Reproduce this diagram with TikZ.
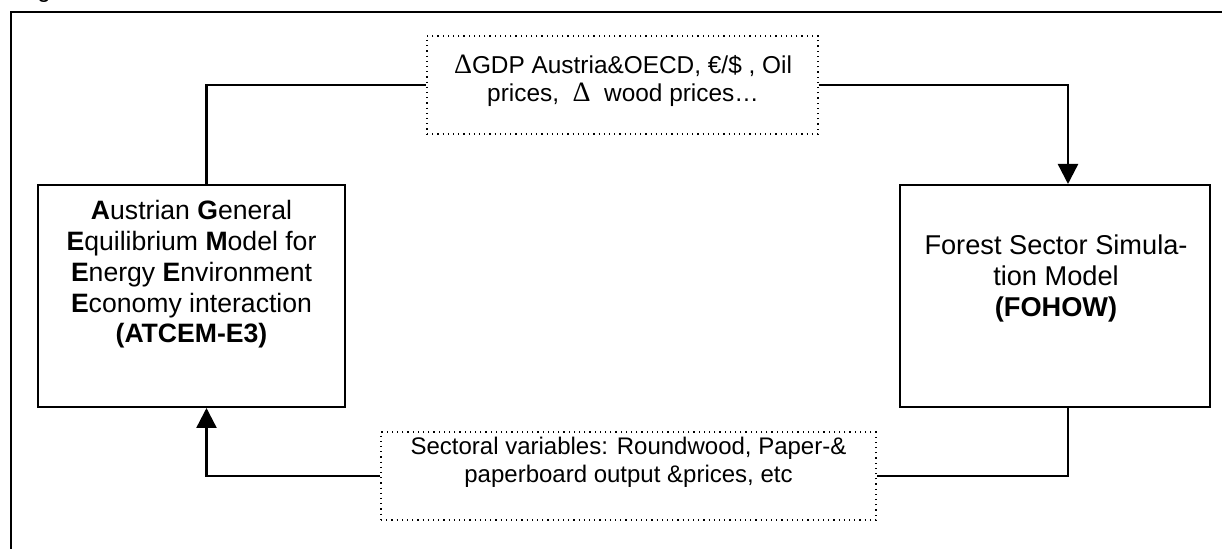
\documentclass[tikz,border=0pt]{standalone}
\usepackage{fontspec}
\setmainfont{Liberation Sans}
\newfontfamily\deltafont{Liberation Serif}
\usetikzlibrary{arrows.meta, positioning}

\begin{document}
\begin{tikzpicture}[x=0.5pt, y=-0.5pt,
  modelbox/.style={draw, line width=1pt, inner sep=0pt},
  databox/.style={draw, dotted, line width=0.6pt, inner sep=0pt},
  boxtext/.style={inner sep=0pt, align=center},
  flow/.style={line width=1.2pt},
  tip/.style={-{Triangle[length=10pt, width=10pt]}}]
\useasboundingbox (0,0) rectangle (1222,549);

% page frame and caption remnant
\node[anchor=base, font=\fontsize{12}{14}\selectfont] (figcap) at (44,-2) {g};
\draw[line width=1pt] (11,570) -- (11,12) -- (1250,12);

% the two models
\node[modelbox, minimum width=153.5pt, minimum height=111pt] (agem) at (191.5,296) {};
\node[boxtext, font=\fontsize{13.3}{15.4}\selectfont] (agemtext) at (191.5,274.5)
  {\textbf{A}ustrian \textbf{G}eneral\\\textbf{E}quilibrium \textbf{M}odel for\\
   \textbf{E}nergy \textbf{E}nvironment\\\textbf{E}conomy interaction\\\textbf{(ATCEM-E3)}};

\node[modelbox, minimum width=155pt, minimum height=111pt] (fohow) at (1055,296) {};
\node[boxtext, font=\fontsize{13.6}{15.5}\selectfont] (fohowtext) at (1056,278)
  {Forest Sector Simula-\\tion Model\\\textbf{(FOHOW)}};

% exchanged variables
\node[databox, minimum width=195.5pt, minimum height=49pt] (macro) at (622.5,85) {};
\node[boxtext, font=\fontsize{12.2}{14}\selectfont] (macrotext) at (623,81)
  {{\deltafont\fontsize{14}{14}\selectfont Δ}GDP Austria\&OECD, €/\$ , Oil\\prices, \ {\deltafont\fontsize{14}{14}\selectfont Δ}\ \ wood prices…};

\node[databox, minimum width=247.5pt, minimum height=44pt] (sector) at (628.5,476) {};
\node[boxtext, font=\fontsize{12}{14}\selectfont] (sectortext) at (628.5,462)
  {Sectoral variables: Roundwood, Paper-\&\\paperboard output \&prices, etc};

% loop
\draw[flow] ([xshift=7.5pt]agem.north) |- (macro.west);
\draw[flow, tip] (macro.east) -| ([xshift=6.5pt]fohow.north);
\draw[flow] ([xshift=6.5pt]fohow.south) |- (sector.east);
\draw[flow, tip] (sector.west) -| ([xshift=7.5pt]agem.south);
\end{tikzpicture}
\end{document}
